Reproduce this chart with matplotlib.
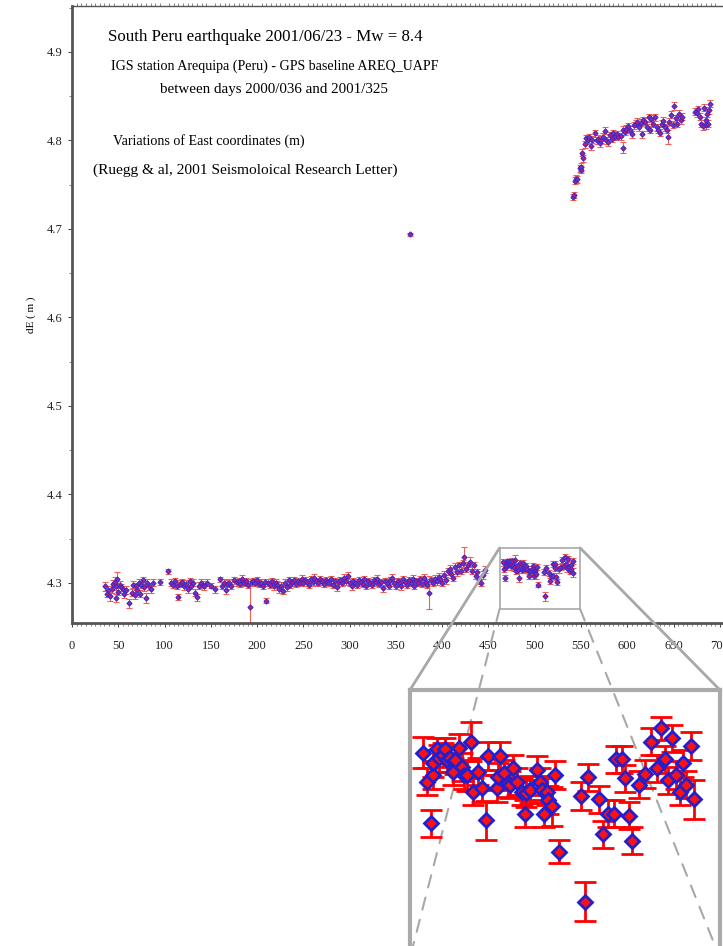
import matplotlib.pyplot as plt
from matplotlib.patches import Rectangle, ConnectionPatch

# GPS baseline AREQ_UAPF, East component (m), day count from 2000/001
days_pre = [36, 38, 39, 41, 43, 44, 46, 47, 48, 49,
            50, 52, 53, 55, 56, 58, 62, 65, 66, 68,
            69, 70, 72, 74, 75, 77, 78, 80, 81, 83,
            85, 88, 95, 104, 107, 109, 111, 113, 115, 117,
            119, 121, 123, 125, 127, 129, 131, 133, 135, 137,
            139, 141, 143, 146, 150, 155, 160, 162, 164, 166,
            168, 170, 172, 175, 178, 180, 182, 184, 186, 188,
            190, 192, 194, 196, 198, 200, 202, 204, 206, 208,
            210, 212, 214, 216, 218, 220, 222, 224, 226, 228,
            230, 232, 234, 236, 238, 240, 242, 244, 246, 248,
            250, 252, 254, 256, 258, 260, 262, 264, 266, 268,
            270, 272, 274, 276, 278, 280, 282, 284, 286, 288,
            290, 292, 294, 296, 298, 300, 302, 304, 306, 308,
            310, 312, 314, 316, 318, 320, 322, 324, 326, 328,
            330, 332, 334, 336, 338, 340, 342, 344, 346, 348,
            350, 352, 354, 356, 358, 360, 362, 364, 366, 368,
            370, 372, 374, 376, 378, 380, 382, 384, 386, 388,
            390, 392, 394, 396, 398, 400, 402, 404, 406, 408,
            410, 412, 414, 416, 418, 420, 422, 424, 426, 428,
            430, 432, 434, 436, 438, 440, 442, 444, 446]
de_pre = [4.296, 4.288, 4.292, 4.285, 4.293, 4.299, 4.301, 4.283, 4.296, 4.305,
          4.290, 4.298, 4.295, 4.293, 4.287, 4.292, 4.277, 4.289, 4.298, 4.286,
          4.296, 4.292, 4.300, 4.288, 4.298, 4.303, 4.295, 4.283, 4.300, 4.296,
          4.293, 4.300, 4.301, 4.313, 4.300, 4.298, 4.302, 4.297, 4.284, 4.299,
          4.301, 4.296, 4.299, 4.293, 4.302, 4.297, 4.300, 4.289, 4.284, 4.297,
          4.300, 4.298, 4.296, 4.300, 4.297, 4.293, 4.304, 4.297, 4.300, 4.292,
          4.299, 4.300, 4.297, 4.303, 4.301, 4.302, 4.299, 4.305, 4.300, 4.302,
          4.298, 4.273, 4.301, 4.302, 4.300, 4.303, 4.299, 4.300, 4.297, 4.301,
          4.280, 4.300, 4.298, 4.302, 4.296, 4.300, 4.298, 4.293, 4.297, 4.291,
          4.300, 4.295, 4.303, 4.298, 4.301, 4.303, 4.299, 4.302, 4.300, 4.305,
          4.300, 4.303, 4.301, 4.298, 4.304, 4.301, 4.306, 4.302, 4.300, 4.304,
          4.302, 4.299, 4.303, 4.301, 4.300, 4.304, 4.298, 4.302, 4.295, 4.301,
          4.303, 4.300, 4.306, 4.302, 4.308, 4.300, 4.296, 4.302, 4.300, 4.298,
          4.303, 4.301, 4.299, 4.304, 4.297, 4.302, 4.300, 4.298, 4.303, 4.301,
          4.305, 4.299, 4.301, 4.294, 4.302, 4.300, 4.297, 4.303, 4.306, 4.300,
          4.297, 4.302, 4.300, 4.296, 4.304, 4.301, 4.298, 4.303, 4.300, 4.305,
          4.297, 4.302, 4.300, 4.304, 4.299, 4.306, 4.301, 4.298, 4.289, 4.303,
          4.300, 4.305, 4.302, 4.307, 4.304, 4.300, 4.309, 4.303, 4.313, 4.316,
          4.310, 4.306, 4.318, 4.312, 4.320, 4.314, 4.322, 4.329, 4.316, 4.320,
          4.324, 4.314, 4.320, 4.308, 4.312, 4.303, 4.300, 4.309, 4.315]
err_pre = [0.005, 0.004, 0.004, 0.005, 0.004, 0.004, 0.006, 0.005, 0.004, 0.007,
           0.004, 0.004, 0.004, 0.004, 0.004, 0.004, 0.005, 0.004, 0.004, 0.004,
           0.004, 0.004, 0.004, 0.004, 0.004, 0.004, 0.004, 0.006, 0.004, 0.004,
           0.004, 0.004, 0.003, 0.003, 0.004, 0.004, 0.004, 0.004, 0.003, 0.004,
           0.004, 0.004, 0.004, 0.004, 0.004, 0.004, 0.004, 0.004, 0.004, 0.004,
           0.004, 0.004, 0.004, 0.004, 0.003, 0.004, 0.003, 0.004, 0.004, 0.004,
           0.004, 0.004, 0.004, 0.004, 0.004, 0.004, 0.004, 0.004, 0.004, 0.004,
           0.004, 0.032, 0.004, 0.004, 0.004, 0.004, 0.004, 0.004, 0.004, 0.004,
           0.003, 0.004, 0.004, 0.004, 0.004, 0.004, 0.004, 0.004, 0.004, 0.004,
           0.004, 0.004, 0.004, 0.004, 0.004, 0.004, 0.004, 0.004, 0.004, 0.004,
           0.004, 0.004, 0.004, 0.004, 0.004, 0.004, 0.004, 0.004, 0.004, 0.004,
           0.004, 0.004, 0.004, 0.004, 0.004, 0.004, 0.004, 0.004, 0.004, 0.004,
           0.004, 0.004, 0.004, 0.004, 0.004, 0.004, 0.004, 0.004, 0.004, 0.004,
           0.004, 0.004, 0.004, 0.004, 0.004, 0.004, 0.004, 0.004, 0.004, 0.004,
           0.004, 0.004, 0.004, 0.004, 0.004, 0.004, 0.004, 0.004, 0.004, 0.004,
           0.004, 0.004, 0.004, 0.004, 0.004, 0.004, 0.004, 0.004, 0.004, 0.004,
           0.004, 0.004, 0.004, 0.004, 0.004, 0.004, 0.004, 0.004, 0.019, 0.004,
           0.004, 0.004, 0.004, 0.004, 0.004, 0.004, 0.004, 0.004, 0.004, 0.004,
           0.004, 0.004, 0.004, 0.004, 0.004, 0.004, 0.004, 0.012, 0.004, 0.004,
           0.005, 0.004, 0.004, 0.004, 0.004, 0.004, 0.004, 0.004, 0.004]

# stretch shown in the zoom window
days_zoom = [465.6, 466.7, 467.8, 468.5, 468.6, 469.7, 470.2, 471.3, 471.8, 472.3,
             473.2, 474.2, 474.6, 475.8, 476.5, 477.1, 477.9, 479.0, 479.6, 481.2,
             482.1, 483.3, 484.0, 486.3, 486.6, 487.3, 488.4, 489.6, 490.0, 490.8,
             492.0, 493.4, 494.3, 494.5, 495.7, 497.6, 498.5, 499.1, 499.6, 500.5,
             500.8, 501.8, 502.7, 503.9, 509.9, 511.2, 511.9, 515.0, 516.1, 517.7,
             519.3, 519.8, 521.4, 522.3, 523.4, 524.4, 526.4, 528.0, 529.6, 531.2,
             532.4, 533.6, 534.5, 535.5, 536.6, 537.8, 538.7, 539.6, 540.8, 541.7]
de_zoom = [4.3235, 4.3160, 4.3053, 4.3177, 4.3207, 4.3243, 4.3220, 4.3229, 4.3243, 4.3216,
           4.3220, 4.3186, 4.3216, 4.3247, 4.3198, 4.3177, 4.3177, 4.3263, 4.3134, 4.3186,
           4.3143, 4.3061, 4.3226, 4.3143, 4.3173, 4.3226, 4.3182, 4.3156, 4.3152, 4.3194,
           4.3160, 4.3134, 4.3078, 4.3130, 4.3139, 4.3190, 4.3160, 4.3139, 4.3078, 4.3134,
           4.3113, 4.3097, 4.3177, 4.2980, 4.3123, 4.2851, 4.3171, 4.3115, 4.3025, 4.3078,
           4.3078, 4.3218, 4.3218, 4.3169, 4.3072, 4.3008, 4.3152, 4.3180, 4.3263, 4.3194,
           4.3297, 4.3218, 4.3164, 4.3272, 4.3177, 4.3134, 4.3207, 4.3152, 4.3252, 4.3115]
err_zoom = [0.0040, 0.0035, 0.0035, 0.0035, 0.0035, 0.0030, 0.0035, 0.0030, 0.0030, 0.0030,
            0.0035, 0.0035, 0.0035, 0.0035, 0.0035, 0.0035, 0.0040, 0.0050, 0.0035, 0.0035,
            0.0035, 0.0050, 0.0035, 0.0035, 0.0035, 0.0035, 0.0035, 0.0035, 0.0035, 0.0035,
            0.0035, 0.0035, 0.0035, 0.0035, 0.0035, 0.0035, 0.0035, 0.0035, 0.0035, 0.0035,
            0.0035, 0.0050, 0.0035, 0.0030, 0.0035, 0.0050, 0.0035, 0.0035, 0.0035, 0.0035,
            0.0035, 0.0035, 0.0035, 0.0035, 0.0035, 0.0035, 0.0035, 0.0035, 0.0035, 0.0035,
            0.0030, 0.0035, 0.0035, 0.0035, 0.0035, 0.0035, 0.0035, 0.0035, 0.0035, 0.0050]

# outlier on day 365
days_out = [365]
de_out = [4.694]
err_out = [0.002]

# after the Mw 8.4 earthquake
days_post = [541.5, 542.0, 543.1, 544.9, 546.0, 548.5, 549.5, 550.3, 551.5, 552.2,
             554.0, 555.0, 557.0, 559.0, 561.0, 562.0, 564.9, 567.0, 568.5, 570.0,
             572.0, 574.0, 575.7, 577.5, 579.0, 581.0, 583.0, 585.0, 587.0, 588.5,
             590.0, 593.0, 595.0, 595.6, 597.0, 599.0, 601.0, 603.0, 605.0, 607.0,
             609.0, 611.0, 613.0, 615.0, 615.6, 617.0, 619.0, 621.0, 623.0, 624.5,
             626.0, 628.0, 630.0, 632.0, 633.5, 635.5, 637.0, 639.0, 641.0, 642.5,
             644.0, 645.5, 647.0, 649.0, 650.7, 653.0, 654.0, 656.0, 657.5, 659.0,
             673.5, 675.0, 676.0, 678.5, 679.5, 682.0, 682.5, 684.5, 685.0, 686.0,
             687.0, 688.0, 689.5]
de_post = [4.7360, 4.7383, 4.7545, 4.7570, 4.7560, 4.7685, 4.7670, 4.7700, 4.7860, 4.7800,
           4.7957, 4.8025, 4.8000, 4.8036, 4.7937, 4.8010, 4.8080, 4.8000, 4.8020, 4.7970,
           4.8010, 4.8040, 4.8110, 4.8000, 4.7980, 4.8060, 4.8020, 4.8080, 4.8040, 4.8070,
           4.8040, 4.8050, 4.8120, 4.7920, 4.8100, 4.8135, 4.8160, 4.8120, 4.8070, 4.8170,
           4.8190, 4.8210, 4.8150, 4.8200, 4.8070, 4.8230, 4.8210, 4.8150, 4.8260, 4.8120,
           4.8245, 4.8190, 4.8260, 4.8150, 4.8120, 4.8090, 4.8190, 4.8220, 4.8150, 4.8120,
           4.8040, 4.8210, 4.8290, 4.8180, 4.8390, 4.8250, 4.8190, 4.8300, 4.8230, 4.8270,
           4.8326, 4.8310, 4.8355, 4.8270, 4.8190, 4.8160, 4.8370, 4.8230, 4.8170, 4.8300,
           4.8190, 4.8340, 4.8415]
err_post = [0.003, 0.003, 0.004, 0.004, 0.004, 0.004, 0.004, 0.004, 0.004, 0.004,
            0.004, 0.004, 0.004, 0.004, 0.004, 0.004, 0.004, 0.004, 0.004, 0.004,
            0.004, 0.004, 0.004, 0.004, 0.004, 0.004, 0.004, 0.004, 0.004, 0.004,
            0.004, 0.004, 0.004, 0.006, 0.004, 0.004, 0.004, 0.004, 0.004, 0.004,
            0.004, 0.004, 0.004, 0.004, 0.004, 0.004, 0.004, 0.004, 0.004, 0.004,
            0.004, 0.004, 0.004, 0.004, 0.004, 0.004, 0.004, 0.004, 0.004, 0.004,
            0.008, 0.004, 0.004, 0.004, 0.005, 0.004, 0.004, 0.004, 0.004, 0.004,
            0.004, 0.004, 0.004, 0.004, 0.004, 0.004, 0.004, 0.004, 0.004, 0.004,
            0.004, 0.004, 0.004]

# zoom window (days, dE)
zx0, zx1 = 462, 549
zy0, zy1 = 4.2706, 4.3396

title_lines = ["South Peru earthquake 2001/06/23 - Mw = 8.4",
               "IGS station Arequipa (Peru) - GPS baseline AREQ_UAPF",
               "between days 2000/036 and 2001/325",
               "Variations of East coordinates (m)",
               "(Ruegg & al, 2001 Seismoloical Research Letter)"]

plt.rcParams['font.family'] = ['Liberation Serif', 'DejaVu Serif']

fig = plt.figure(figsize=(7.23, 9.46), dpi=100)
ax = fig.add_axes([0.0996, 0.3414, 0.905, 0.6523])
ax.set_zorder(0)

main_style = dict(fmt='D', ms=2.6, mfc='#b02080', mec='#3a2ad0', mew=0.8,
                  ecolor='#f06050', elinewidth=0.8, capsize=2, capthick=0.8)
for d, v, e in [(days_pre, de_pre, err_pre), (days_zoom, de_zoom, err_zoom),
                (days_out, de_out, err_out), (days_post, de_post, err_post)]:
    ax.errorbar(d, v, yerr=e, ls='none', **main_style)

ax.set_xlim(0, 707)
ax.set_ylim(4.2547, 4.952)
ax.set_xticks(range(0, 701, 50))
ax.set_yticks([4.3, 4.4, 4.5, 4.6, 4.7, 4.8, 4.9])
ax.set_xticks(range(0, 707, 5), minor=True)
ax.set_yticks([4.35, 4.45, 4.55, 4.65, 4.75, 4.85, 4.95], minor=True)
ax.tick_params(labelsize=9, colors='#222222', length=3, width=0.6)
ax.tick_params(which='minor', length=2, width=0.5, colors='#555555', top=True)
ax.tick_params(axis='x', pad=9)
for s in ['left', 'bottom']:
    ax.spines[s].set_linewidth(2)
    ax.spines[s].set_color('#555555')
ax.spines['top'].set_linewidth(1)
ax.spines['top'].set_color('#555555')
ax.spines['right'].set_visible(False)
ax.set_ylabel('dE ( m )', fontsize=8, labelpad=8)

ax.add_patch(Rectangle((zx0, zy0), zx1 - zx0, zy1 - zy0, fill=False,
                       ec='#b0b0b0', lw=1.3, zorder=5))

# inset
axin = fig.add_axes([0.567, -0.0127, 0.4288, 0.2833])
axin.set_zorder(2)
axin.patch.set_alpha(0)
axin.errorbar(days_zoom, de_zoom, yerr=err_zoom, ls='none', fmt='D', ms=7.5,
              mfc='#ff1010', mec='#2020d0', mew=2, ecolor='#ff0000',
              elinewidth=2, capsize=8, capthick=2)
axin.set_xlim(zx0, zx1)
axin.set_ylim(zy0, zy1)
axin.set_xticks([])
axin.set_yticks([])
for s in axin.spines.values():
    s.set_linewidth(3)
    s.set_color('#aaaaaa')

links = [((zx0, zy1), (0, 1), '-'), ((zx1, zy1), (1, 1), '-'),
         ((zx0, zy0), (0, 0), (0, (6, 5))), ((zx1, zy0), (1, 0), (0, (6, 5)))]
for pa, pb, st in links:
    cp = ConnectionPatch(xyA=pa, coordsA=ax.transData, xyB=pb, coordsB=axin.transAxes,
                         color='#a8a8a8', lw=2 if st == '-' else 1.5, ls=st)
    cp.set_zorder(1)
    fig.add_artist(cp)

W, H = 723, 946
fig.text(265 / W, 1 - 37 / H, title_lines[0], ha='center', va='center', fontsize=12.2)
fig.text(275 / W, 1 - 66 / H, title_lines[1], ha='center', va='center', fontsize=10.1)
fig.text(274 / W, 1 - 89 / H, title_lines[2], ha='center', va='center', fontsize=10.8)
fig.text(209 / W, 1 - 141 / H, title_lines[3], ha='center', va='center', fontsize=10.1)
fig.text(245 / W, 1 - 170 / H, title_lines[4], ha='center', va='center', fontsize=11.1)

fig.savefig('out.png', dpi=100)
